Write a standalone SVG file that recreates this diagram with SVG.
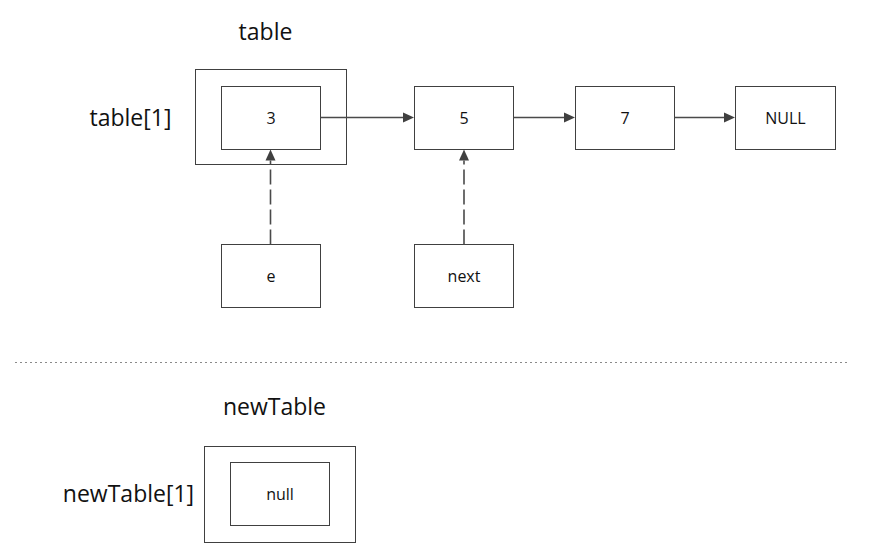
<svg xmlns="http://www.w3.org/2000/svg" width="880" height="555" viewBox="0 0 880 555">
<defs>
<style>
.box{fill:#fff;stroke:#404040;stroke-width:1}
.lbl{font-family:"Open Sans","Liberation Sans",sans-serif;font-size:23px;fill:#111;text-anchor:middle}
.t{font-family:"Open Sans","Liberation Sans",sans-serif;font-size:16px;fill:#111;text-anchor:middle}
.ar{stroke:#4a4a4a;stroke-width:1.6;fill:none}
.dash{stroke-dasharray:15 5}
</style>
<marker id="ah" markerUnits="userSpaceOnUse" markerWidth="12" markerHeight="12" refX="0" refY="5" orient="auto" overflow="visible">
<path d="M0,0 L11,5 L0,10 z" fill="#404040"/>
</marker>
</defs>
<rect width="880" height="555" fill="#fff"/>
<text class="lbl" x="265.5" y="39.5">table</text>
<text class="lbl" x="130.5" y="125.5">table[1]</text>
<g id="table1">
<rect class="box" x="195.5" y="69.5" width="151" height="95"/>
</g>
<g id="n3">
<rect class="box" x="221.5" y="86.5" width="99" height="63"/>
<text class="t" x="271" y="123.5">3</text>
</g>
<g id="n5">
<rect class="box" x="414.5" y="86.5" width="99" height="63"/>
<text class="t" x="464" y="123.5">5</text>
</g>
<g id="n7">
<rect class="box" x="575.5" y="86.5" width="99" height="63"/>
<text class="t" x="625" y="123.5">7</text>
</g>
<g id="nNULL">
<rect class="box" x="735.5" y="86.5" width="100" height="63"/>
<text class="t" x="785.5" y="123.5">NULL</text>
</g>
<g id="e">
<rect class="box" x="221.5" y="244.5" width="99" height="63"/>
<text class="t" x="271" y="281.5">e</text>
</g>
<g id="next">
<rect class="box" x="414.5" y="244.5" width="99" height="63"/>
<text class="t" x="464" y="281.5">next</text>
</g>
<g id="connectors">
<line class="ar" x1="320.5" y1="117.5" x2="403" y2="117.5" marker-end="url(#ah)"/>
<line class="ar" x1="513.5" y1="117.5" x2="564" y2="117.5" marker-end="url(#ah)"/>
<line class="ar" x1="674.5" y1="117.5" x2="724" y2="117.5" marker-end="url(#ah)"/>
<line class="ar dash" x1="270.5" y1="244.5" x2="270.5" y2="160.5" marker-end="url(#ah)"/>
<line class="ar dash" x1="464" y1="244.5" x2="464" y2="160.5" marker-end="url(#ah)"/>
</g>
<line x1="15" y1="362.5" x2="847" y2="362.5" stroke="#8a8a8a" stroke-width="1" stroke-dasharray="2 3"/>
<text class="lbl" x="274.5" y="415">newTable</text>
<text class="lbl" x="128.5" y="501.5">newTable[1]</text>
<g id="newTable1">
<rect class="box" x="204.5" y="446.5" width="151" height="96"/>
</g>
<g id="nnull">
<rect class="box" x="230.5" y="462.5" width="99" height="63"/>
<text class="t" x="280" y="500">null</text>
</g>
</svg>
